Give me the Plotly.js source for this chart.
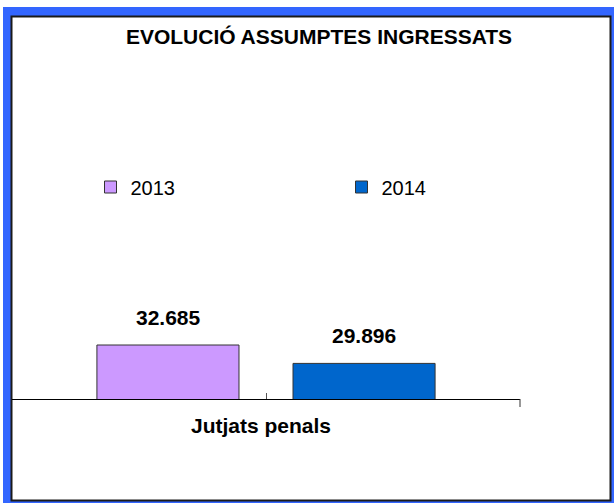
<!DOCTYPE html>
<html>
<head>
<meta charset="utf-8">
<script src="https://cdn.plot.ly/plotly-3.0.1.min.js"></script>
<style>
html,body{margin:0;padding:0;background:#ffffff;}
#chart{width:614px;height:503px;}
</style>
</head>
<body>
<div id="chart"></div>
<script>
// ---- data ----
var categories = ["Jutjats penals"];
var seriesNames = ["2013", "2014"];
var values2013 = [32685];
var values2014 = [29896];
var seriesColors = ["#CC99FF", "#0066CC"];
var chartTitle = "EVOLUCIÓ ASSUMPTES INGRESSATS";

// ---- geometry helpers (pixel -> paper) ----
var W = 614, H = 503;
var L = 12, R = 94, T = 60, B = 104;
var PW = W - L - R, PH = H - T - B;
function px(x){ return (x - L) / PW; }
function py(y){ return (H - B - y) / PH; }

var FONT = "Liberation Sans, Arial, sans-serif";
var barLine = {color: "#333333", width: 1};

var traces = [
  {type: "bar", name: seriesNames[0], x: categories, y: values2013,
   marker: {color: seriesColors[0], line: barLine}},
  {type: "bar", name: seriesNames[1], x: categories, y: values2014,
   marker: {color: seriesColors[1], line: barLine}}
];

var allSeries = [values2013, values2014];
var shifts = [-98, 98];
var annotations = [];
allSeries.forEach(function(vals, s){
  vals.forEach(function(v, i){
    annotations.push({
      x: categories[i], y: v, xref: "x", yref: "y",
      text: v.toLocaleString("de-DE"),
      showarrow: false, xshift: shifts[s], yshift: 28,
      xanchor: "center", yanchor: "middle",
      font: {family: FONT, size: 21, color: "#000000", weight: "bold"}
    });
  });
});
// category labels under the axis
categories.forEach(function(c){
  annotations.push({
    x: c, xref: "x", y: 0, yref: "paper",
    text: c, showarrow: false, xshift: -5.5, yshift: -26,
    xanchor: "center", yanchor: "middle",
    font: {family: FONT, size: 21, color: "#000000", weight: "bold"}
  });
});

var shapes = [
  {type: "rect", xref: "paper", yref: "paper", layer: "below",
   x0: px(3), x1: px(614), y0: py(7), y1: py(503),
   fillcolor: "#3366FF", line: {width: 0}},
  {type: "rect", xref: "paper", yref: "paper", layer: "below",
   x0: px(11.5), x1: px(610.5), y0: py(16.5), y1: py(500.5),
   fillcolor: "#FFFFFF", line: {color: "#1a1a1a", width: 2}},
  {type: "line", xref: "paper", yref: "paper", layer: "above",
   x0: 1, x1: 1, y0: 0, y1: py(407),
   line: {color: "#333333", width: 1}}
];

var layout = {
  width: W, height: H,
  margin: {l: L, r: R, t: T, b: B, autoexpand: false},
  paper_bgcolor: "#ffffff",
  plot_bgcolor: "rgba(0,0,0,0)",
  separators: ",.",
  font: {family: FONT, color: "#000000"},
  title: {text: chartTitle, x: 319 / W, xanchor: "center", xref: "container",
          y: 1 - 37 / H, yanchor: "middle", yref: "container",
          font: {family: FONT, size: 21, weight: "bold", color: "#000000"}},
  barmode: "group",
  bargap: 0.228,
  bargroupgap: 0.2755,
  showlegend: true,
  legend: {orientation: "h", xref: "container", yref: "container",
           x: 90.5 / W, xanchor: "left", y: 1 - 187 / H, yanchor: "middle",
           entrywidth: 206, entrywidthmode: "pixels",
           bgcolor: "rgba(0,0,0,0)", borderwidth: 0,
           font: {family: FONT, size: 20, color: "#000000"}},
  xaxis: {type: "category", range: [-0.5, 0.5], showline: true, linecolor: "#000000", linewidth: 1,
          ticks: "inside", ticklen: 6, tickcolor: "#555555", tickwidth: 1,
          showgrid: false, zeroline: false, showticklabels: false},
  yaxis: {range: [24500, 75885], visible: false, showgrid: false, zeroline: false},
  shapes: shapes,
  annotations: annotations,
  hovermode: false
};

Plotly.newPlot("chart", traces, layout, {staticPlot: true, displayModeBar: false});
</script>
</body>
</html>
